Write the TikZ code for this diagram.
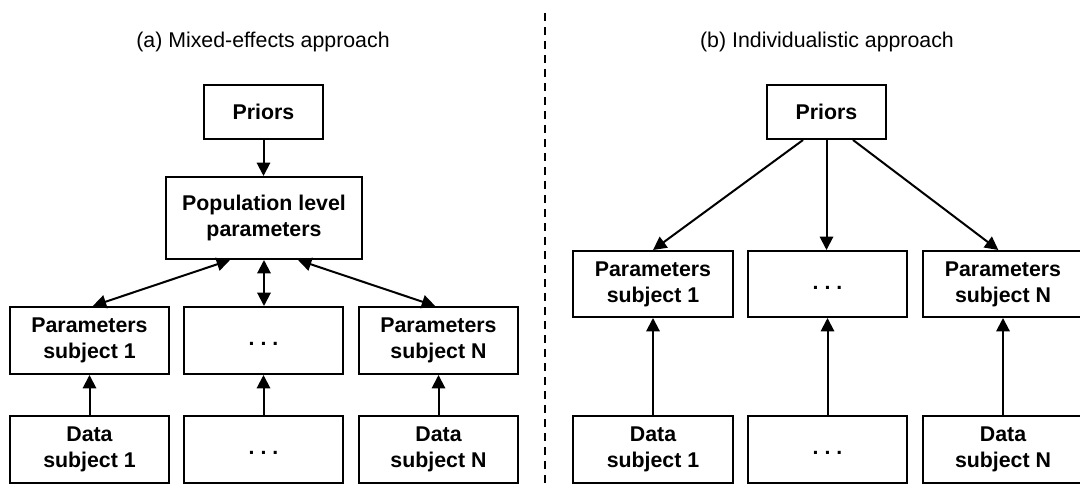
\documentclass[tikz,border=0pt]{standalone}
\usepackage{fontspec}
\setmainfont{Liberation Sans}
\usetikzlibrary{arrows.meta}
\begin{document}
\begin{tikzpicture}[x=0.75pt,y=-0.75pt,
  box/.style={draw, line width=1.5pt, inner sep=0pt, align=center,
    font=\fontsize{16}{19.5}\selectfont\bfseries},
  wh/.style 2 args={minimum width=#1*0.75pt, minimum height=#2*0.75pt},
  title/.style={anchor=base, inner sep=0pt, font=\fontsize{16}{19.5}\selectfont},
  arr/.style={line width=1.5pt, -{Triangle[length=10pt,width=10pt]}},
  biarr/.style={line width=1.5pt, {Triangle[length=10pt,width=10pt]}-{Triangle[length=10pt,width=10pt]}},
  sep/.style={line width=1.5pt, dash pattern=on 6pt off 4.5pt}
]
\useasboundingbox (0,0) rectangle (1080,484);
\newcommand{\mydots}{\vphantom{Ag}.\hspace{0.28em}.\hspace{0.28em}.}

% titles
\node[title] (ta) at (263,48) {(a) Mixed-effects approach};
\node[title] (tb) at (827,48) {(b) Individualistic approach};

% separator
\coordinate (dtop) at (545,13);
\coordinate (dbot) at (545,486);
\draw[sep] (dtop) -- (dbot);

% (a) mixed-effects
\node[box, wh={119}{54}] (priorsA) at (263.5,112) {Priors};
\node[box, wh={196}{82}] (popA) at (264,218) {Population level\\parameters};
\node[box, wh={159}{67}] (pA1) at (89.5,340.5) {Parameters\\subject 1};
\node[box, wh={159}{67}] (pA2) at (263.5,340.5) {\mydots};
\node[box, wh={159}{67}] (pA3) at (438.5,340.5) {Parameters\\subject N};
\node[box, wh={159}{67}] (dA1) at (89.5,449.5) {Data\\subject 1};
\node[box, wh={159}{67}] (dA2) at (263.5,449.5) {\mydots};
\node[box, wh={159}{67}] (dA3) at (438.5,449.5) {Data\\subject N};

\draw[arr] (priorsA.south) -- (priorsA.south |- popA.north);
\draw[biarr] ([xshift=-25.5pt]popA.south) -- ([xshift=2.5pt]pA1.north);
\draw[biarr] (popA.south) -- (popA.south |- pA2.north);
\draw[biarr] ([xshift=25.5pt]popA.south) -- ([xshift=-2.5pt]pA3.north);
\draw[arr] (dA1.north) -- (pA1.south);
\draw[arr] (dA2.north) -- (pA2.south);
\draw[arr] (dA3.north) -- (pA3.south);

% (b) individualistic
\node[box, wh={119}{54}] (priorsB) at (826.5,112) {Priors};
\node[box, wh={160}{66}] (pB1) at (653,284) {Parameters\\subject 1};
\node[box, wh={159}{66}] (pB2) at (827.5,284) {\mydots};
\node[box, wh={160}{66}] (pB3) at (1003,284) {Parameters\\subject N};
\node[box, wh={160}{67}] (dB1) at (653,449.5) {Data\\subject 1};
\node[box, wh={159}{67}] (dB2) at (827.5,449.5) {\mydots};
\node[box, wh={160}{67}] (dB3) at (1003,449.5) {Data\\subject N};

\draw[arr] ([xshift=-17.6pt]priorsB.south) -- (pB1.north);
\draw[arr] (priorsB.south) -- (priorsB.south |- pB2.north);
\draw[arr] ([xshift=19.9pt]priorsB.south) -- ([xshift=-3.5pt]pB3.north);
\draw[arr] (dB1.north) -- (pB1.south);
\draw[arr] (dB2.north) -- (pB2.south);
\draw[arr] (dB3.north) -- (pB3.south);
\end{tikzpicture}
\end{document}
